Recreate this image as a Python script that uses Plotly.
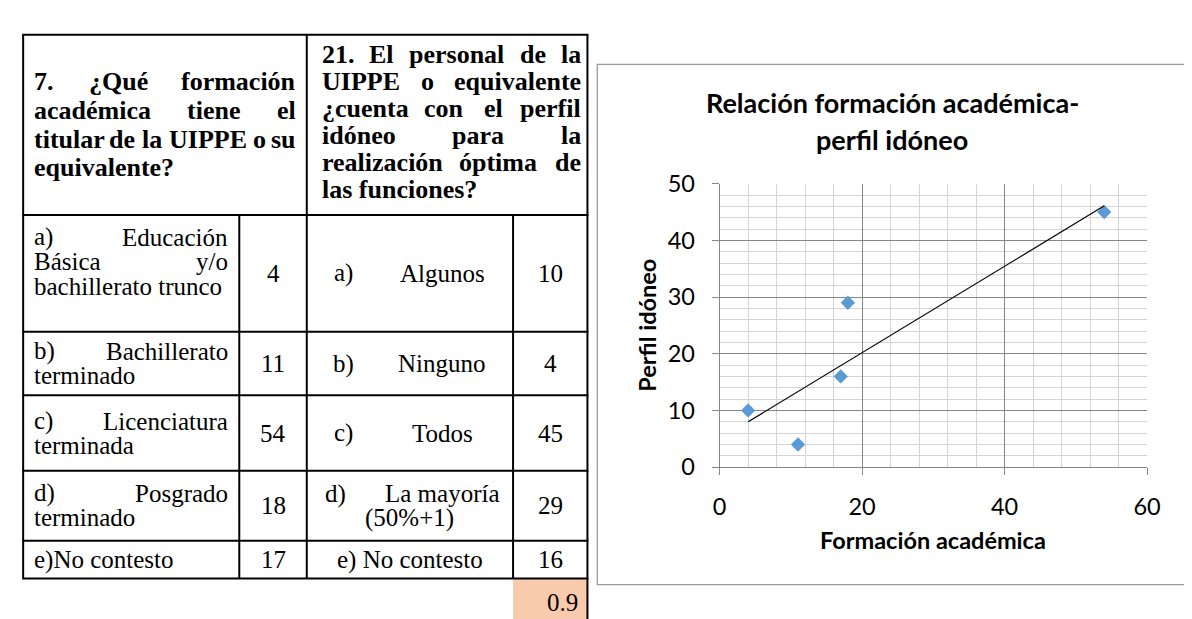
import unicodedata
import numpy as np
import plotly.graph_objects as go

# ---- datos de la tabla ----
pregunta_formacion = ["7. ¿Qué formación", "académica tiene el", "titular de la UIPPE o su", "equivalente?"]
pregunta_perfil = ["21. El personal de la", "UIPPE o equivalente", "¿cuenta con el perfil",
                   "idóneo para la", "realización óptima de", "las funciones?"]

formacion_opciones = ["a) Educación\nBásica y/o\nbachillerato trunco", "b) Bachillerato\nterminado",
                      "c) Licenciatura\nterminada", "d) Posgrado\nterminado", "e)No contesto"]
formacion_valores = [4, 11, 54, 18, 17]

perfil_opciones = ["a) Algunos", "b) Ninguno", "c) Todos", "d) La mayoría\n(50%+1)", "e) No contesto"]
perfil_valores = [10, 4, 45, 29, 16]

correlacion = 0.9

# ---- textos del grafico ----
titulo = ["Relación formación académica-", "perfil idóneo"]
eje_x = "Formación académica"
eje_y = "Perfil idóneo"

W, H = 1192, 619


def fx(px):
    return px / W


def fy(py):
    return 1 - py / H


# approximate Times widths (1/1000 em) used to space justified lines
REG = dict(zip("abcdefghijklmnopqrstuvwxyz",
               [444, 500, 444, 500, 444, 333, 500, 500, 278, 278, 500, 278, 778, 500, 500, 500, 500, 333, 389, 278,
                500, 500, 722, 500, 500, 444]))
BOLD = dict(zip("abcdefghijklmnopqrstuvwxyz",
                [500, 556, 444, 556, 444, 333, 500, 556, 278, 333, 556, 278, 833, 556, 500, 556, 556, 444, 389, 333,
                 556, 500, 722, 500, 500, 444]))
OTHER = {")": 333, "(": 333, ".": 250, "/": 278, "?": 444, "¿": 444, "%": 833, "+": 564,
         "U": 722, "I": 389, "P": 611, "E": 667, "Q": 778, "B": 667, "L": 667}


def text_w(word, size, bold=False):
    tab = BOLD if bold else REG
    tot = 0
    for ch in word:
        base = unicodedata.normalize("NFD", ch)[0]
        if base in tab:
            tot += tab[base]
        elif base.isdigit():
            tot += 500
        else:
            tot += OTHER.get(base, 650)
    return tot * size / 1000


fig = go.Figure()
ann = []
shapes = []

SERIF = "Liberation Serif"
FS = 25
FSH = 26


def add_text(txt, x, y, anchor="center", size=FS, bold=False, family=SERIF, angle=0):
    ann.append(dict(text=txt, x=fx(x), y=fy(y), xref="paper", yref="paper", showarrow=False,
                    xanchor=anchor, yanchor="middle", textangle=angle, borderpad=0,
                    font=dict(family=family, size=size, color="black", weight="bold" if bold else "normal")))


def justify(line, x0, x1, y, size=FS, bold=False):
    words = line.split()
    if len(words) == 1:
        add_text(words[0], x0, y, "left", size, bold)
        return
    ws = [text_w(w, size, bold) for w in words]
    gap = (x1 - x0 - sum(ws)) / (len(words) - 1)
    pos = x0
    for i, w in enumerate(words):
        if i == 0:
            add_text(w, x0, y, "left", size, bold)
        elif i == len(words) - 1:
            add_text(w, x1, y, "right", size, bold)
        else:
            add_text(w, pos + ws[i] / 2, y, "center", size, bold)
        pos += ws[i] + gap


# ---- tabla ----
X = [8.3, 228.3, 297, 507, 582.7]
Y = [12.3, 201, 323.3, 390, 469, 542.3, 581.7]

# celda coloreada de la correlacion
shapes.append(dict(type="rect", xref="paper", yref="paper", x0=fx(X[3]), x1=fx(X[4]), y0=fy(Y[-1]), y1=fy(630),
                   fillcolor="#f8cbad", line=dict(width=0), layer="below"))

lw = dict(color="black", width=2)
for yy in Y:
    shapes.append(dict(type="line", xref="paper", yref="paper", x0=fx(X[0] - 1), x1=fx(X[4] + 1),
                       y0=fy(yy), y1=fy(yy), line=lw))
for xx in [X[0], X[2]]:
    shapes.append(dict(type="line", xref="paper", yref="paper", x0=fx(xx), x1=fx(xx),
                       y0=fy(Y[0]), y1=fy(Y[-1]), line=lw))
shapes.append(dict(type="line", xref="paper", yref="paper", x0=fx(X[4]), x1=fx(X[4]),
                   y0=fy(Y[0]), y1=fy(630), line=lw))
for xx in [X[1], X[3]]:
    shapes.append(dict(type="line", xref="paper", yref="paper", x0=fx(xx), x1=fx(xx),
                       y0=fy(Y[1]), y1=fy(Y[-1]), line=lw))

# encabezados (justificados)
for i, line in enumerate(pregunta_formacion):
    y = 61.7 + 30 * i
    if i < len(pregunta_formacion) - 1:
        justify(line, 18.3, 287.3, y, FSH, True)
    else:
        add_text(line, 18.3, y, "left", FSH, True)
for i, line in enumerate(pregunta_perfil):
    y = 33.3 + 28.3 * i
    if i < len(pregunta_perfil) - 1:
        justify(line, 311.7, 577.3, y, FSH, True)
    else:
        add_text(line, 311.7, y, "left", FSH, True)

# filas
centros_txt = [250, 356.7, 429.8, 505.5, 562]
LS = 25.5
for r in range(5):
    yc = (Y[r + 1] + Y[r + 2]) / 2
    lines = formacion_opciones[r].split("\n")
    y0 = centros_txt[r] - LS * (len(lines) - 1) / 2
    for k, line in enumerate(lines):
        if k < len(lines) - 1:
            justify(line, 18.3, 218.3, y0 + LS * k)
        else:
            add_text(line, 18.3, y0 + LS * k, "left")
    add_text(str(formacion_valores[r]), (X[1] + X[2]) / 2, yc)

    plines = perfil_opciones[r].split("\n")
    if r < 3:
        pre, word = plines[0].split(" ", 1)
        add_text(pre, 334, yc)
        add_text(word, 435, yc)
    elif len(plines) > 1:
        y0 = yc - LS / 2
        pre, word = plines[0].split(" ", 1)
        add_text(pre, 315, y0, "left")
        add_text(word, 494.3, y0, "right")
        add_text(plines[1], (X[2] + X[3]) / 2, y0 + LS)
    else:
        add_text(plines[0], (X[2] + X[3]) / 2, yc)
    add_text(str(perfil_valores[r]), (X[3] + X[4]) / 2, yc)

add_text(str(correlacion), 574, 606.7, "right")

# ---- grafico de dispersion ----
shapes.append(dict(type="rect", xref="paper", yref="paper", x0=fx(592.7), x1=fx(1200), y0=fy(588.3), y1=fy(43.3),
                   line=dict(color="#9a9a9a", width=1.3), layer="below"))

fig.add_trace(go.Scatter(x=formacion_valores, y=perfil_valores, mode="markers",
                         marker=dict(symbol="diamond", size=11, color="#5b9bd5"), showlegend=False))

m, b = np.polyfit(formacion_valores, perfil_valores, 1)
xt = np.array([min(formacion_valores), max(formacion_valores)])
fig.add_trace(go.Scatter(x=xt, y=m * xt + b, mode="lines", line=dict(color="black", width=1.2),
                         showlegend=False))

SANS = "Lato"
for i, t in enumerate(titulo):
    add_text(t, 893, 83.3 + 38.4 * i, "center", 27, True, SANS)
add_text(eje_x, 934.8, 541.7, "center", 23.5, True, SANS)
add_text(eje_y, 643.7, 316.7, "center", 23.5, True, SANS, -90)

axis_common = dict(showline=True, linecolor="#868686", linewidth=1, ticks="outside", ticklen=7,
                   tickcolor="#868686", showgrid=True, gridcolor="#868686", gridwidth=1, zeroline=False,
                   tickfont=dict(family=SANS, size=23.5, color="black"), ticklabelstandoff=12)

fig.update_layout(
    width=W, height=H, margin=dict(l=0, r=0, t=0, b=0),
    paper_bgcolor="white", plot_bgcolor="white",
    xaxis=dict(domain=[fx(717.3), fx(1152.3)], range=[0, 60], tickvals=[0, 20, 40, 60],
               minor=dict(dtick=4, showgrid=True, gridcolor="#d4d4d4", gridwidth=1.3, ticks=""),
               **axis_common),
    yaxis=dict(domain=[fy(465.2), fy(168.3)], range=[0, 50], tickvals=[0, 10, 20, 30, 40, 50],
               minor=dict(dtick=2, showgrid=True, gridcolor="#d4d4d4", gridwidth=1.3, ticks=""),
               **axis_common),
    annotations=ann, shapes=shapes,
)

fig.write_html("out.html")
